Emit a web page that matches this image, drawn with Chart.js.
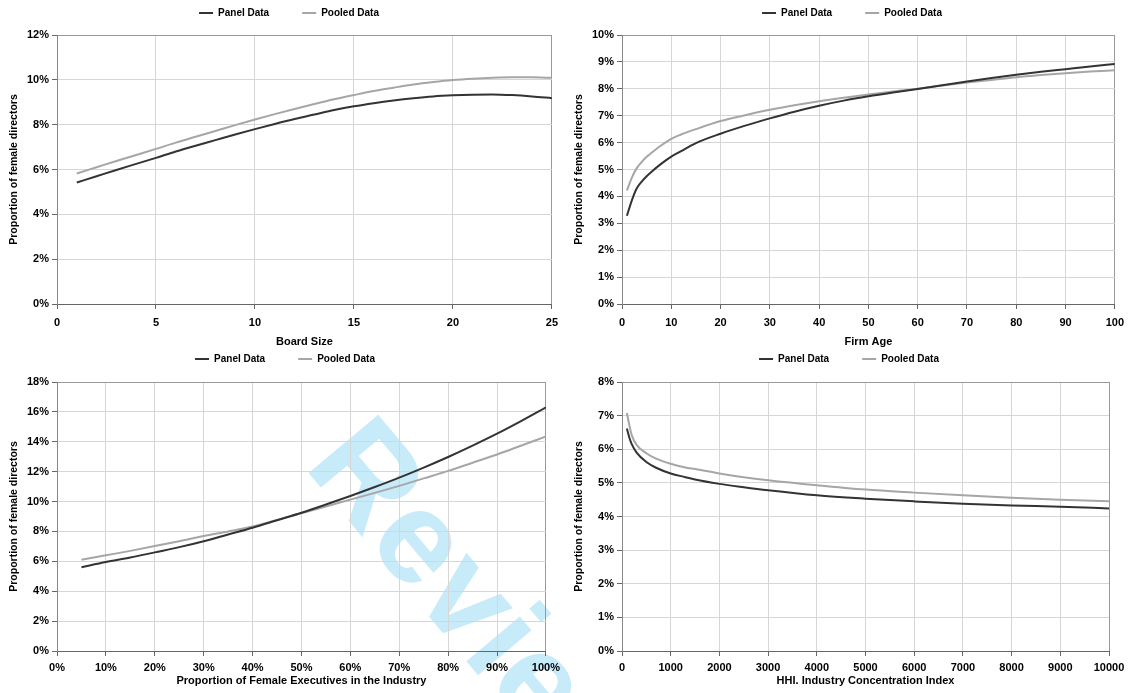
<!DOCTYPE html>
<html>
<head>
<meta charset="utf-8">
<title>Proportion of female directors</title>
<script src="https://cdn.jsdelivr.net/npm/chart.js@4.4.0/dist/chart.umd.min.js"></script>
<style>
    html, body { margin: 0; padding: 0; background: #fff; }
    body { width: 1131px; height: 693px; position: relative; overflow: hidden; }
    .box { position: absolute; }
    .watermark {
        position: absolute; left: 388px; top: 395px;
        transform-origin: 0 0; transform: rotate(50deg);
        font: bold 132px "Liberation Sans", Arial, sans-serif;
        letter-spacing: 1px;
        line-height: 1; color: #c8ebfa; white-space: nowrap;
    }
</style>
</head>
<body>
<div class="watermark">Review</div>
<div class="box" style="left:0;top:0"><canvas id="boardChart" width="565" height="350"></canvas></div>
<div class="box" style="left:565px;top:0"><canvas id="ageChart" width="566" height="350"></canvas></div>
<div class="box" style="left:0;top:346px"><canvas id="execChart" width="565" height="347"></canvas></div>
<div class="box" style="left:565px;top:346px"><canvas id="hhiChart" width="566" height="347"></canvas></div>
<script>
// Series labels
const seriesNames = ['Panel Data', 'Pooled Data'];

// Board size (x) vs proportion of female directors (%)
const boardSize = [1, 2, 3, 4, 5, 6, 7, 8, 9, 10, 11, 12, 13, 14, 15, 16, 17, 18, 19, 20, 21, 22, 23, 24, 25];
const boardPanel = [5.42, 5.70, 5.98, 6.25, 6.52, 6.80, 7.06, 7.31, 7.56, 7.80, 8.03, 8.25, 8.45, 8.65, 8.82, 8.96, 9.08, 9.18, 9.26, 9.31, 9.34, 9.35, 9.32, 9.26, 9.18];
const boardPooled = [5.82, 6.10, 6.38, 6.65, 6.92, 7.20, 7.46, 7.72, 7.98, 8.23, 8.47, 8.70, 8.92, 9.13, 9.32, 9.50, 9.65, 9.79, 9.90, 9.99, 10.05, 10.09, 10.11, 10.11, 10.09];

// Firm age
const firmAge = [1, 2, 3, 4, 5, 6, 8, 10, 12, 15, 20, 25, 30, 35, 40, 45, 50, 55, 60, 65, 70, 75, 80, 85, 90, 95, 100];
const agePanel = [3.28, 3.85, 4.30, 4.55, 4.75, 4.92, 5.22, 5.48, 5.68, 5.98, 6.33, 6.63, 6.90, 7.15, 7.37, 7.56, 7.72, 7.86, 7.99, 8.13, 8.27, 8.40, 8.52, 8.63, 8.73, 8.83, 8.92];
const agePooled = [4.22, 4.70, 5.05, 5.28, 5.47, 5.62, 5.90, 6.14, 6.30, 6.50, 6.80, 7.02, 7.22, 7.39, 7.54, 7.67, 7.79, 7.90, 8.00, 8.12, 8.23, 8.33, 8.43, 8.51, 8.58, 8.64, 8.69];

// Proportion of female executives in the industry (%)
const femaleExec = [5, 10, 15, 20, 25, 30, 35, 40, 45, 50, 55, 60, 65, 70, 75, 80, 85, 90, 95, 100];
const execPanel = [5.60, 5.95, 6.25, 6.60, 6.95, 7.35, 7.80, 8.25, 8.75, 9.25, 9.80, 10.37, 10.97, 11.60, 12.27, 12.98, 13.74, 14.54, 15.40, 16.30];
const execPooled = [6.10, 6.40, 6.70, 7.02, 7.35, 7.70, 8.00, 8.33, 8.77, 9.22, 9.67, 10.13, 10.58, 11.05, 11.55, 12.05, 12.60, 13.15, 13.75, 14.35];

// HHI industry concentration index
const hhi = [100, 150, 200, 300, 500, 700, 1000, 1300, 1500, 2000, 2500, 3000, 4000, 5000, 6000, 7000, 8000, 9000, 10000];
const hhiPanel = [6.62, 6.35, 6.15, 5.90, 5.62, 5.45, 5.28, 5.17, 5.10, 4.97, 4.87, 4.78, 4.63, 4.53, 4.45, 4.38, 4.33, 4.29, 4.24];
const hhiPooled = [7.08, 6.72, 6.42, 6.13, 5.88, 5.72, 5.57, 5.46, 5.41, 5.28, 5.17, 5.08, 4.93, 4.80, 4.71, 4.63, 4.56, 4.50, 4.45];

const yTitle = 'Proportion of female directors';
const pct = v => v + '%';

Chart.defaults.font.family = '"Liberation Sans", Arial, sans-serif';
Chart.defaults.color = '#000';

// Lets the legend keep a wide item gap without pushing the plot down
const legendHeight = {
    id: 'legendHeight',
    beforeInit(chart, args, opts) {
        const fit = chart.legend.fit;
        chart.legend.fit = function () {
            fit.call(this);
            this.height = opts.height;
        };
    }
};

function drawChart(id, cfg) {
    const line = (label, ys, color) => ({
        label: label,
        data: cfg.x.map((x, i) => ({ x: x, y: ys[i] })),
        borderColor: color,
        backgroundColor: color,
        borderWidth: 2,
        pointRadius: 0,
        cubicInterpolationMode: 'monotone'
    });
    const bold = size => ({ size: size, weight: 'bold' });

    new Chart(document.getElementById(id), {
        type: 'line',
        data: {
            datasets: [
                line(seriesNames[0], cfg.panel, '#333333'),
                line(seriesNames[1], cfg.pooled, '#a6a6a6')
            ]
        },
        plugins: [legendHeight],
        options: {
            responsive: false,
            animation: false,
            layout: { padding: { left: 24, right: cfg.padRight, top: -25, bottom: 0 } },
            plugins: {
                legend: {
                    position: 'top',
                    labels: {
                        usePointStyle: true,
                        pointStyle: 'line',
                        pointStyleWidth: 14,
                        padding: 33,
                        color: '#000',
                        font: bold(10)
                    }
                },
                legendHeight: { height: cfg.legendH },
                tooltip: { enabled: false }
            },
            scales: {
                x: {
                    type: 'linear',
                    min: cfg.xMin,
                    max: cfg.xMax,
                    afterFit: s => { s.height = cfg.xAxisH; },
                    ticks: {
                        stepSize: cfg.xStep,
                        padding: cfg.xTickPad,
                        maxRotation: 0,
                        autoSkip: false,
                        color: '#000',
                        font: bold(11),
                        callback: cfg.xFormat || (v => v)
                    },
                    grid: {
                        color: c => (c.tick && c.tick.value === cfg.xMax) ? '#999' : '#d6d6d6',
                        tickColor: '#666',
                        tickLength: 5
                    },
                    border: { color: '#666' },
                    title: {
                        display: true,
                        text: cfg.xTitle,
                        color: '#000',
                        font: bold(11),
                        padding: { top: 0, bottom: cfg.xTitlePad }
                    }
                },
                y: {
                    min: 0,
                    max: cfg.yMax,
                    afterFit: s => { s.width = 33; },
                    ticks: {
                        stepSize: cfg.yStep,
                        padding: 3,
                        color: '#000',
                        font: bold(11),
                        callback: pct
                    },
                    grid: {
                        color: c => (c.tick && c.tick.value === cfg.yMax) ? '#999' : '#d6d6d6',
                        tickColor: '#666',
                        tickLength: 5
                    },
                    border: { color: '#888' },
                    title: {
                        display: true,
                        text: yTitle,
                        color: '#000',
                        font: bold(10.5),
                        padding: { top: -16, bottom: 0 }
                    }
                }
            }
        }
    });
}

drawChart('boardChart', {
    x: boardSize, panel: boardPanel, pooled: boardPooled,
    xMin: 0, xMax: 25, xStep: 5, yMax: 12, yStep: 2,
    xTitle: 'Board Size', padRight: 11, legendH: 60,
    xAxisH: 46, xTickPad: 7, xTitlePad: 1
});

drawChart('ageChart', {
    x: firmAge, panel: agePanel, pooled: agePooled,
    xMin: 0, xMax: 100, xStep: 10, yMax: 10, yStep: 1,
    xTitle: 'Firm Age', padRight: 16, legendH: 60,
    xAxisH: 46, xTickPad: 7, xTitlePad: 1
});

drawChart('execChart', {
    x: femaleExec, panel: execPanel, pooled: execPooled,
    xMin: 0, xMax: 100, xStep: 10, yMax: 18, yStep: 2,
    xTitle: 'Proportion of Female Executives in the Industry', xFormat: pct,
    padRight: 19, legendH: 61,
    xAxisH: 42, xTickPad: 5, xTitlePad: 5
});

drawChart('hhiChart', {
    x: hhi, panel: hhiPanel, pooled: hhiPooled,
    xMin: 0, xMax: 10000, xStep: 1000, yMax: 8, yStep: 1,
    xTitle: 'HHI. Industry Concentration Index',
    padRight: 22, legendH: 61,
    xAxisH: 42, xTickPad: 5, xTitlePad: 5
});
</script>
</body>
</html>
